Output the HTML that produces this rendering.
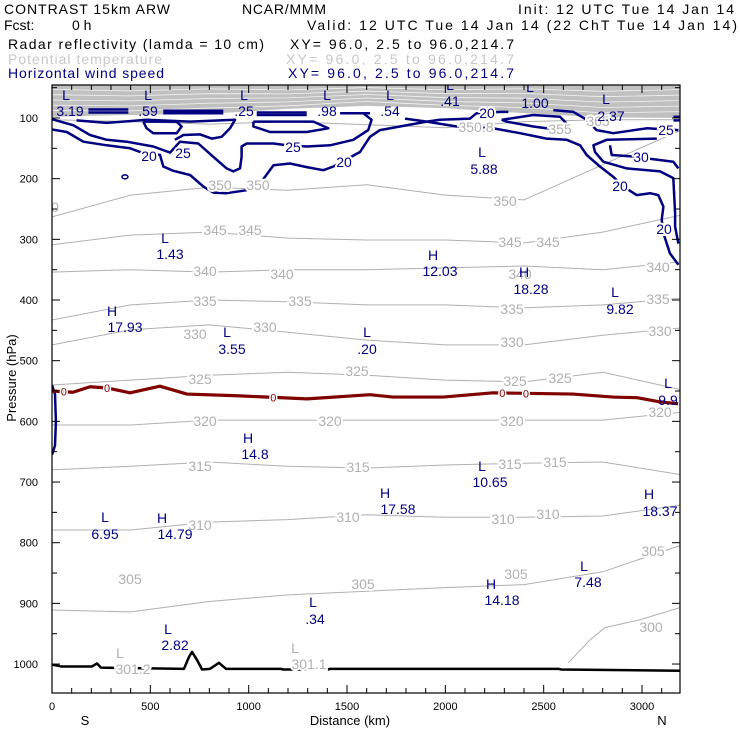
<!DOCTYPE html>
<html><head><meta charset="utf-8"><style>
html,body{margin:0;padding:0;background:#fff;}
svg{display:block;font-family:"Liberation Sans",sans-serif;}
.hd{font-size:14px;}
.tk{font-size:11px;fill:#000;}
.lab{font-size:13px;}
.wl{font-size:14px;fill:#000080;paint-order:stroke;stroke:#fff;stroke-width:4px;}
.tl{font-size:14px;fill:#b0b0b0;paint-order:stroke;stroke:#fff;stroke-width:4px;}
.hl{font-size:14px;fill:#000080;}
</style></head><body>
<svg id="chart" width="740" height="740" viewBox="0 0 740 740">
<g>
<text class="hd" x="4" y="14" textLength="166">CONTRAST 15km ARW</text>
<text class="hd" x="242" y="14" textLength="84">NCAR/MMM</text>
<text class="hd" x="518" y="14" textLength="216">Init: 12 UTC Tue 14 Jan 14</text>
<text class="hd" x="4" y="30">Fcst:</text>
<text class="hd" x="72" y="30">0 h</text>
<text class="hd" x="307" y="30" textLength="430">Valid: 12 UTC Tue 14 Jan 14 (22 ChT Tue 14 Jan 14)</text>
<text class="hd" x="8" y="49" textLength="256">Radar reflectivity (lamda = 10 cm)</text>
<text class="hd" x="290" y="49" textLength="224">XY=  96.0,  2.5 to  96.0,214.7</text>
<text class="hd" x="8" y="64" textLength="154" fill="#c8c8c8">Potential temperature</text>
<text class="hd" x="286" y="64" textLength="228" fill="#c8c8c8">XY=  96.0,  2.5 to  96.0,214.7</text>
<text class="hd" x="8" y="78" textLength="156" fill="#000080">Horizontal wind speed</text>
<text class="hd" x="288" y="78" textLength="226" fill="#000080">XY=  96.0,  2.5 to  96.0,214.7</text>
</g>
<g id="plot"></g>
<g>
<text class="lab" x="0" y="0" transform="translate(16,378) rotate(-90)" text-anchor="middle">Pressure (hPa)</text>
<text class="lab" x="350" y="725" text-anchor="middle">Distance (km)</text>
<text class="lab" x="85" y="725" text-anchor="middle">S</text>
<text class="lab" x="662" y="725" text-anchor="middle">N</text>
</g>
</svg>
<script>
// ---- data ----
const xTicks=[0,500,1000,1500,2000,2500,3000];
const yTicks=[100,200,300,400,500,600,700,800,900,1000];
const thetaCols=[0,400,800,1200,1600,2000,2400,2800,3200];
const theta350=[263,227,214,219,210,227,235,177,120];
const theta345=[309,293,288,298,301,301,306,288,260];
const theta340=[354,350,354,350,350,347,344,350,337];
const theta335=[433,408,400,403,408,408,413,408,397];
const theta330=[474,449,441,453,466,474,474,458,446];
const theta325=[540,532,524,519,524,532,535,519,548];
const theta320=[606,606,598,598,598,598,598,598,585];
const theta315=[680,674,667,674,677,672,669,667,688];
const theta310=[779,779,766,762,754,758,758,756,738];
const theta305=[911,914,897,886,880,874,869,848,804];
const theta355=[103,106,110,106,111,116,106,103,103];
const theta300Km=[2625,2736,2812,2990,3193];
const theta300P=[998,960,940,927,907];
const shadeBottom=[98,95,93,85,80,84,92,99,100];
const redKm=[0,107,193,280,397,549,686,956,1297,1617,1734,1988,2242,2649,2853,2975,3092,3183];
const redP=[550,552,543,545,553,542,555,558,563,556,560,560,553,555,560,561,568,571];
const redMarkKm=[60,280,1125,2290,2410];
const terrainKm=[0,46,203,229,249,671,697,712,737,763,803,849,885,1164,1175,1403,1414,2578,2588,3194];
const terrainP=[1001,1004,1004,999,1006,1008,988,980,993,1009,1008,998,1008,1008,1009,1009,1008,1008,1009,1011];
const windL2=[[0,119],[75,123],[159,139],[278,145],[397,150],[448,156],[549,161],[566,180],[617,187],[702,194],[770,213],[820,223],[888,224],[990,219],[1058,208],[1126,178],[1210,175],[1295,181],[1380,186],[1431,180],[1566,156],[1617,131],[1668,120],[1769,114],[1905,106],[1973,103],[2125,101],[2159,92],[2286,90],[2320,90]];
const windL1=[[0,102],[109,112],[193,128],[278,136],[380,139],[515,147],[600,157],[651,139],[744,142],[820,164],[888,183],[922,188],[956,183],[964,164],[964,147],[990,142],[1126,142],[1193,145],[1295,147],[1414,145],[1532,136],[1608,120],[1625,103],[1583,92]];
const windL0=[[125,104],[278,108],[481,103],[702,106],[931,103],[905,117],[863,131],[812,134],[753,127],[668,128],[625,136]];
const windC1=[[464,106],[634,106],[659,114],[634,125],[515,125],[481,117],[464,106]];
const windC2=[[1024,106],[1329,106],[1405,117],[1295,123],[1109,123],[1024,114],[1024,106]];
const windM2=[[1795,101],[1905,106],[2058,114],[2244,117],[2380,125],[2515,134],[2617,136],[2685,145],[2719,161],[2786,180],[2854,197],[2905,213],[2973,227],[3041,224],[3083,227],[3109,246],[3100,268],[3109,290],[3142,323],[3185,342]];
const windC3=[[2286,103],[2447,95],[2583,98],[2617,109],[2583,120],[2447,114],[2312,106],[2286,103]];
const windM4=[[2549,87],[2651,90],[2719,103],[2769,120],[2854,125],[3024,117],[3185,120]];
const windM5=[[3075,134],[2820,136],[2753,145],[2761,156],[2803,172],[2922,183],[3092,188],[3159,199],[3168,257],[3168,279],[3185,307]];
const windM6=[[2837,145],[2846,161],[2939,163],[3159,172],[3185,183]];
const windLeft=[[0,540],[15,555],[20,600],[15,640],[0,655]];
const windBars=[[[185,86],[388,86]],[[185,91],[388,91]],[[566,88],[871,88]],[[566,92],[871,92]],[[1041,91],[1295,91]],[[1041,95],[1295,95]],[[1465,92],[1617,92]],[[3160,98],[3194,98]],[[3160,104],[3194,104]]];
// ---- scales ----
const X=km=>52+km*0.19667;
const Y=p=>85+(p-45.6)*0.6067;
const NS='http://www.w3.org/2000/svg';
const plot=document.getElementById('plot');
function mk(tag,attrs,parent){const e=document.createElementNS(NS,tag);for(const k in attrs)e.setAttribute(k,attrs[k]);(parent||plot).appendChild(e);return e;}
function ptsKP(arr){return arr.map(a=>X(a[0]).toFixed(1)+','+Y(a[1]).toFixed(1)).join(' ');}
function ptsCols(ps){return ps.map((p,i)=>X(thetaCols[i]).toFixed(1)+','+Y(p).toFixed(1)).join(' ');}
const defs=mk('defs',{});
const cp=mk('clipPath',{id:'clip'},defs);
mk('rect',{x:52,y:85,width:628,height:608},cp);
const g=mk('g',{'clip-path':'url(#clip)'});


let sp=[X(0)+','+Y(45.6)];
shadeBottom.forEach((p,i)=>sp.push(X(thetaCols[i])+','+Y(p)));
sp.push(X(3200)+','+Y(45.6));
const sh=mk('polygon',{points:sp.join(' '),fill:'#c0c0c0'},g);


for(let k=1;k<6;k++){
  const wl=mk('polyline',{points:shadeBottom.map((p,i)=>X(thetaCols[i])+','+Y(45.6+(p-45.6)*k/6+((i%2)?1.5:-1.5))).join(' '),fill:'none',stroke:'#fff','stroke-width':0.8,'stroke-opacity':0.8},g);
  
  
}
const thetaSets=[theta355,theta350,theta345,theta340,theta335,theta330,theta325,theta320,theta315,theta310,theta305];
const thetaNames=['355','350','345','340','335','330','325','320','315','310','305'];
thetaSets.forEach((s,i)=>{
  const l=mk('polyline',{points:ptsCols(s),fill:'none',stroke:'#b0b0b0','stroke-width':1,'stroke-linejoin':'round'},g);
  
  
});
const t300=mk('polyline',{points:theta300Km.map((k,i)=>X(k)+','+Y(theta300P[i])).join(' '),fill:'none',stroke:'#b0b0b0','stroke-width':1},g);


const winds=[windL2,windL1,windL0,windC1,windC2,windM2,windC3,windM4,windM5,windM6,windLeft];
winds.forEach((w,i)=>{
  const l=mk('polyline',{points:ptsKP(w),fill:'none',stroke:'#000080','stroke-width':2.5,'stroke-linejoin':'round'},g);
  
  
});
windBars.forEach(b=>{
  const l=mk('polyline',{points:ptsKP(b),fill:'none',stroke:'#000080','stroke-width':2.5},g);
  
  
});
const el=mk('ellipse',{cx:X(371),cy:Y(197),rx:3,ry:2,fill:'none',stroke:'#000080','stroke-width':1.5},g);


const rl=mk('polyline',{points:redKm.map((k,i)=>X(k)+','+Y(redP[i])).join(' '),fill:'none',stroke:'#800000','stroke-width':3.2,'stroke-linejoin':'round'},g);


redMarkKm.forEach(k=>{
  let j=0;while(j<redKm.length-1&&redKm[j+1]<k)j++;
  const f=(k-redKm[j])/(redKm[j+1]-redKm[j]);const p=redP[j]+f*(redP[j+1]-redP[j]);
  const m=mk('text',{x:X(k),y:Y(p)+4,'text-anchor':'middle','font-size':11,fill:'#800000',stroke:'#fff','stroke-width':3,'paint-order':'stroke'},g);
  m.textContent='0';
  
  
});
const tr=mk('polyline',{points:terrainKm.map((k,i)=>X(k)+','+Y(terrainP[i])).join(' '),fill:'none',stroke:'#000','stroke-width':2.5,'stroke-linejoin':'round'},g);


const thetaLabels=[['350',220,190],['350',258,190],['350',505,206],['0',55,212],['345',215,235],['345',250,235],['345',510,247],['345',548,247],['340',205,276],['340',282,279],['340',520,279],['340',658,272],['335',205,306],['335',300,306],['335',512,314],['335',658,304],['330',195,339],['330',265,332],['330',512,347],['330',660,336],['325',200,384],['325',357,376],['325',515,386],['325',560,383],['320',205,426],['320',330,426],['320',512,426],['320',660,417],['315',200,471],['315',358,472],['315',510,469],['315',555,467],['310',200,530],['310',348,522],['310',503,524],['310',548,519],['305',130,584],['305',363,589],['305',516,579],['305',653,556],['300',651,632],['350.8',476,132],['355',560,134],['365',598,126],['301.2',133,674],['301.1',309,669]];
thetaLabels.forEach(t=>{
  const e=mk('text',{x:t[1],y:t[2],'text-anchor':'middle',class:'tl'},g);
  e.textContent=t[0];
  
  
});
const windLabels=[['20',149,161],['25',183,158],['25',293,152],['20',344,167],['20',487,118],['25',666,135],['30',641,162],['20',620,191],['20',664,234]];
windLabels.forEach(t=>{
  const e=mk('text',{x:t[1],y:t[2],'text-anchor':'middle',class:'wl'},g);
  e.textContent=t[0];
  
  
});
const hlLabels=[['L',66,100],['3.19',70,116],['L',148,100],['.59',148,116],['L',244,100],['.25',244,116],['L',327,100],['.98',327,116],['L',390,100],['.54',390,116],['L',450,90],['.41',450,106],['L',530,92],['1.00',535,108],['L',606,104],['2.37',611,121],['L',482,157],['5.88',484,174],['L',165,243],['1.43',170,259],['H',433,260],['12.03',440,276],['H',524,277],['18.28',531,294],['L',615,297],['9.82',620,314],['H',112,316],['17.93',125,332],['L',227,337],['3.55',232,354],['L',367,337],['.20',367,354],['H',248,443],['14.8',255,459],['L',482,471],['10.65',490,487],['H',385,498],['17.58',398,514],['H',649,499],['18.37',660,516],['L',105,522],['6.95',105,539],['H',162,523],['14.79',175,539],['L',584,571],['7.48',588,587],['H',491,589],['14.18',502,605],['L',313,607],['.34',315,624],['L',168,634],['2.82',175,650],['L',668,388],['9.9',668,405]];
hlLabels.forEach(t=>{
  const e=mk('text',{x:t[1],y:t[2],'text-anchor':'middle',class:'hl'},g);
  e.textContent=t[0];
  
  
});
[['L',120,658],['L',295,653]].forEach(t=>{
  const e=mk('text',{x:t[1],y:t[2],'text-anchor':'middle','font-size':14,fill:'#b0b0b0'},g);
  e.textContent=t[0];
  
  
});
const fr=mk('rect',{x:52,y:85,width:628,height:608,fill:'none',stroke:'#000','stroke-width':1.2});


for(let k=0;k<=3194;k+=100){
  const len=(k%500===0)?8:5;
  const b=mk('line',{x1:X(k),x2:X(k),y1:693,y2:693-len,stroke:'#000','stroke-width':1});
  
  
  const t=mk('line',{x1:X(k),x2:X(k),y1:85,y2:85+len,stroke:'#000','stroke-width':1});
  
  
}
for(let p=50;p<=1040;p+=50){
  const len=(p%100===0)?8:5;
  const l=mk('line',{x1:52,x2:52+len,y1:Y(p),y2:Y(p),stroke:'#000','stroke-width':1});
  
  
  const r=mk('line',{x1:680,x2:680-len,y1:Y(p),y2:Y(p),stroke:'#000','stroke-width':1});
  
  
}
xTicks.forEach(k=>{
  const t=mk('text',{x:X(k),y:710,'text-anchor':'middle',class:'tk'});
  t.textContent=k;
  
  
});
yTicks.forEach(p=>{
  const t=mk('text',{x:38,y:Y(p)+4,'text-anchor':'end',class:'tk'});
  t.textContent=p;
  
  
});
</script>
</body></html>
